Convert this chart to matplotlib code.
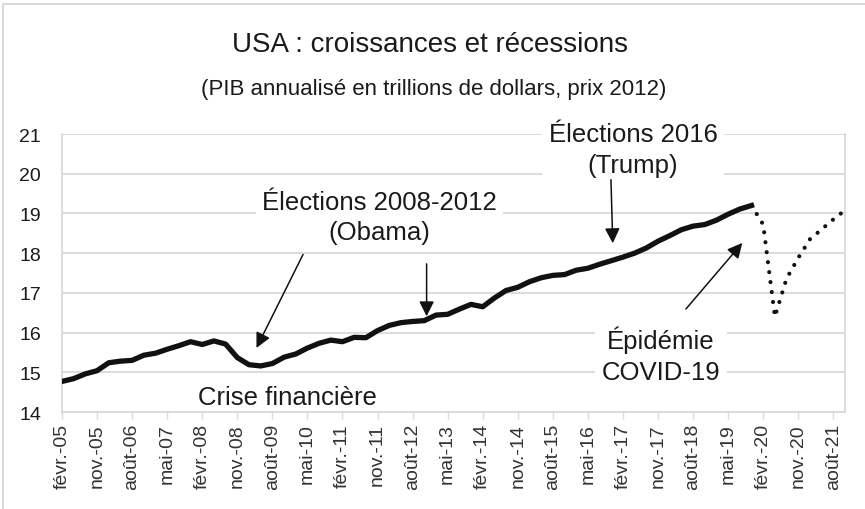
import matplotlib.pyplot as plt
from matplotlib.lines import Line2D

plt.rcParams['font.family'] = ['Liberation Sans', 'DejaVu Sans']

# PIB réel trimestriel (trillions de dollars, prix 2012), févr.-05 -> nov.-19
pib = [14.77, 14.84, 14.96, 15.04, 15.24, 15.28, 15.30, 15.43,
       15.48, 15.58, 15.67, 15.77, 15.70, 15.79, 15.71, 15.37,
       15.19, 15.16, 15.22, 15.38, 15.46, 15.61, 15.73, 15.81,
       15.77, 15.88, 15.87, 16.05, 16.18, 16.25, 16.28, 16.30,
       16.44, 16.46, 16.59, 16.71, 16.65, 16.87, 17.06, 17.14,
       17.28, 17.38, 17.44, 17.46, 17.57, 17.62, 17.72, 17.81,
       17.90, 18.00, 18.13, 18.30, 18.44, 18.59, 18.68, 18.72,
       18.83, 18.98, 19.11, 19.20]
mois = [3 * i for i in range(len(pib))]  # mois depuis févr.-05

# partie pointillée (COVID), nov.-19 -> nov.-21
pib_covid = [19.20, 18.72, 16.40, 17.36, 17.88, 18.35, 18.60, 18.85, 19.08]
mois_covid = [177 + 3 * i for i in range(len(pib_covid))]

tick_mois = [9 * i for i in range(23)]
tick_labels = ['févr.-05', 'nov.-05', 'août-06', 'mai-07', 'févr.-08', 'nov.-08',
               'août-09', 'mai-10', 'févr.-11', 'nov.-11', 'août-12', 'mai-13',
               'févr.-14', 'nov.-14', 'août-15', 'mai-16', 'févr.-17', 'nov.-17',
               'août-18', 'mai-19', 'févr.-20', 'nov.-20', 'août-21']

grid_col = '#d9d9d9'
txt_col = '#1a1a1a'

fig = plt.figure(figsize=(8.65, 5.1), dpi=100)
ax = fig.add_axes([62 / 865, 1 - 413 / 510, (845 - 62) / 865, (413 - 135) / 510])

ax.plot(mois, pib, color='#111111', lw=3.8, solid_joinstyle='round', zorder=3)
ax.plot(mois_covid, pib_covid, color='#111111', lw=3.0,
        linestyle=(0, (0.01, 2.4)), dash_capstyle='round', zorder=3)

ax.set_xlim(0, 201)
ax.set_ylim(14, 21)
ax.set_yticks(range(14, 22))
ax.set_xticks(tick_mois)
ax.set_xticklabels(tick_labels, rotation=90, fontsize=14, color='#333333')
ax.tick_params(axis='y', length=0, pad=15, labelsize=14, labelcolor=txt_col)
ax.tick_params(axis='x', length=5, width=1, color=grid_col, pad=3)
ax.grid(axis='y', color=grid_col, lw=1.3, zorder=0)
for sp in ax.spines.values():
    sp.set_color(grid_col)
    sp.set_linewidth(1.3)
ax.spines['top'].set_visible(False)

# annotations
box = dict(boxstyle='square,pad=0.25', facecolor='white', edgecolor='none')
fs = 18.5
ax.text(81.5, 18.91, 'Élections 2008-2012\n(Obama)', ha='center', va='center',
        fontsize=fs, linespacing=1.36, color=txt_col, bbox=box, zorder=4)
ax.text(146.6, 20.62, 'Élections 2016\n(Trump)', ha='center', va='center',
        fontsize=fs, linespacing=1.36, color=txt_col, bbox=box, zorder=4)
ax.text(153.8, 15.44, 'Épidémie\nCOVID-19', ha='center', va='center',
        fontsize=fs, linespacing=1.36, color=txt_col, bbox=box, zorder=4)
ax.text(57.9, 14.38, 'Crise financière', ha='center', va='center',
        fontsize=fs, color=txt_col, zorder=4)

arrow = dict(arrowstyle='-|>,head_length=0.9,head_width=0.45', color='#111111', lw=1.1)
ax.annotate('', xy=(49.6, 15.55), xytext=(62.2, 18.03), arrowprops=arrow, zorder=5)
ax.annotate('', xy=(93.6, 16.34), xytext=(93.6, 17.80), arrowprops=arrow, zorder=5)
ax.annotate('', xy=(141.4, 18.18), xytext=(140.9, 19.92), arrowprops=arrow, zorder=5)
ax.annotate('', xy=(175.1, 18.31), xytext=(159.7, 16.54), arrowprops=arrow, zorder=5)

# titres
fig.text(430 / 865, 1 - 45 / 510, 'USA : croissances et récessions', ha='center',
         va='center', fontsize=20, color=txt_col)
fig.text(434 / 865, 1 - 90 / 510, '(PIB annualisé en trillions de dollars, prix 2012)',
         ha='center', va='center', fontsize=16, color=txt_col)

# bord du graphique (gauche et haut)
fig.add_artist(Line2D([3 / 865, 3 / 865], [0, 1 - 5 / 510], color=grid_col, lw=1.5))
fig.add_artist(Line2D([3 / 865, 1], [1 - 5 / 510, 1 - 5 / 510], color=grid_col, lw=1.5))

fig.savefig('out.png', dpi=100)
